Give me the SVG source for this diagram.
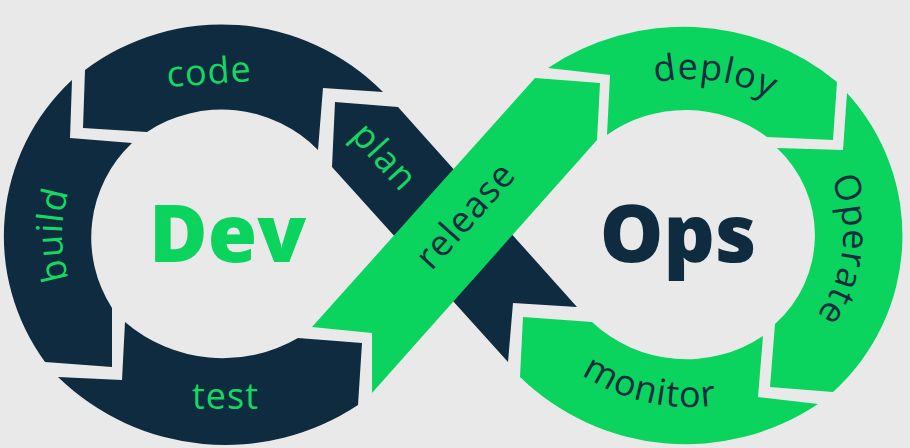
<svg xmlns="http://www.w3.org/2000/svg" width="910" height="448" viewBox="0 0 910 448">
<defs>
<style>
.navy{fill:#0f2b40}
.green{fill:#0ad35e}
.lbl{font-family:"Open Sans","Liberation Sans",sans-serif;font-size:36px;letter-spacing:1px}
.onnavy{fill:#14d862}
.ongreen{fill:#0f2b40}
.big{font-family:"Open Sans","Liberation Sans",sans-serif;font-size:80px;font-weight:800}
</style>
<path id="p-build" d="M108.9,341.8 A160,151 0 0 1 108.9,128.2"/>
<path id="p-deploy" d="M603.5,101.9 A166,156 0 0 1 814.5,131.9"/>
<path id="p-operate" d="M808.3,144.2 A153,143 0 0 1 787.2,345.5"/>
<path id="p-monitor" d="M540.3,336.1 A185,172 0 0 0 771.1,389.6"/>
</defs>
<rect width="910" height="448" fill="#e9e9e9"/>
<g id="connectors"></g>
<g id="code">
<path class="navy" d="M85,70 A227,227 0 0 1 383,92 L323,88 L318,150 A135,135 0 0 0 147,132 L83,128 Z"/>
<text class="lbl onnavy" text-anchor="middle" transform="translate(210,84) rotate(-4)">code</text>
</g>
<g id="build">
<path class="navy" d="M72,80 A213,213 0 0 0 45,362 L112,367 L112,308 A130,130 0 0 1 132,143 L70,138 Z"/>
<text class="lbl onnavy" text-anchor="middle"><textPath href="#p-build" startOffset="50%">build</textPath></text>
</g>
<g id="test">
<path class="navy" d="M58,377 A240,240 0 0 0 358,405 L362,343 L298,338 A150,150 0 0 1 125,322 L122,380 Z"/>
<text class="lbl onnavy" text-anchor="middle" x="225.5" y="409">test</text>
</g>
<g id="plan">
<path class="navy" d="M335,102 L398,107 L577,307 L513,303 L508,362 L332,167 Z"/>
<text class="lbl onnavy" text-anchor="middle" transform="translate(383,158) rotate(47.8)" y="10">plan</text>
</g>
<g id="release">
<path class="green" d="M535,78 L600,83 L597,140 L372,393 L372,333 L312,327 Z"/>
<text class="lbl ongreen" text-anchor="middle" transform="translate(467,217) rotate(-48.2)" y="10">release</text>
</g>
<g id="deploy">
<path class="green" d="M548,68 A242,242 0 0 1 837,82 L833,140 L767,137 A136,136 0 0 0 607,135 L610,75 Z"/>
<text class="lbl ongreen" text-anchor="middle"><textPath href="#p-deploy" startOffset="50%">deploy</textPath></text>
</g>
<g id="operate">
<path class="green" d="M847,93 A211,211 0 0 1 833,392 L770,387 L775,324 A119,119 0 0 0 777,148 L843,150 Z"/>
<text class="lbl ongreen" text-anchor="middle"><textPath href="#p-operate" startOffset="50%">Operate</textPath></text>
</g>
<g id="monitor">
<path class="green" d="M818,404 A238,238 0 0 1 520,377 L523,317 L592,322 A138,138 0 0 0 763,336 L758,397 Z"/>
<text class="lbl ongreen" text-anchor="middle"><textPath href="#p-monitor" startOffset="50%">monitor</textPath></text>
</g>
<g id="dev">
<text class="big" fill="#0ad35e" text-anchor="middle" x="227.5" y="262">Dev</text>
</g>
<g id="ops">
<text class="big" fill="#0f2b40" text-anchor="middle" x="678" y="262">Ops</text>
</g>
</svg>
